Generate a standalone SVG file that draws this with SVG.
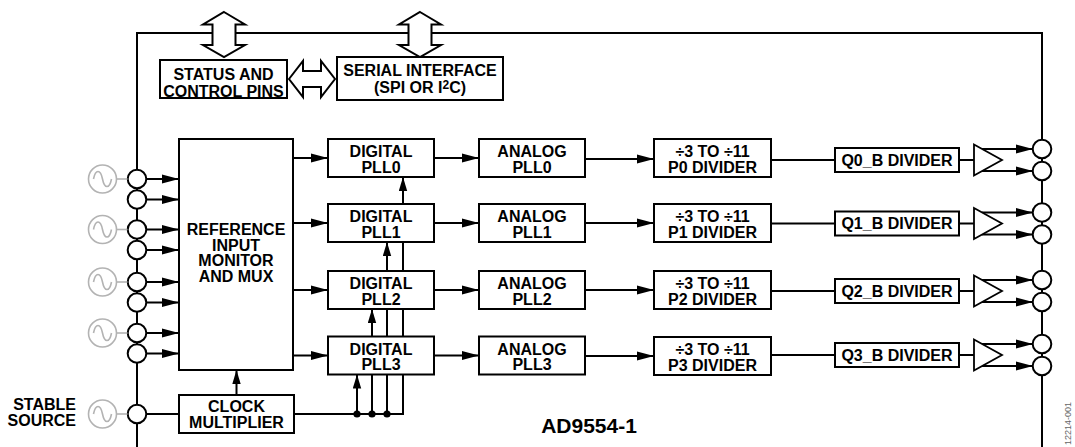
<svg xmlns="http://www.w3.org/2000/svg" width="1075" height="447" viewBox="0 0 1075 447">
<defs>
<style>
.b{fill:#fff;stroke:#000;stroke-width:2}
.l{fill:none;stroke:#000;stroke-width:2}
.t{font-family:"Liberation Sans",Arial,sans-serif;font-weight:bold;font-size:16px;text-anchor:middle;fill:#000}
.g{fill:#fff;stroke:#b3b3b3;stroke-width:1.6}
.gl{fill:none;stroke:#b3b3b3;stroke-width:1.6}
.tri{fill:#fff;stroke:#000;stroke-width:1.8}
.ar{fill:none;stroke:#000;stroke-width:2;marker-end:url(#ah)}
.av{fill:none;stroke:#000;stroke-width:2;marker-end:url(#av)}
</style>
<marker id="ah" markerUnits="userSpaceOnUse" viewBox="0 0 17 10" markerWidth="17" markerHeight="10" refX="17" refY="5" orient="auto"><path d="M0,0.5 L17,5 L0,9.5 z" fill="#000"/></marker>
<marker id="av" markerUnits="userSpaceOnUse" viewBox="0 0 14 9" markerWidth="14" markerHeight="9" refX="14" refY="4.5" orient="auto"><path d="M0,0.3 L14,4.5 L0,8.7 z" fill="#000"/></marker>
<g id="src">
<circle class="g" cx="0" cy="0" r="14"/>
<path class="gl" d="M-9,0 C-7,-10 -2,-10 0,0 C2,10 7,10 9,0"/>
<path class="gl" d="M14,0 H25"/>
</g>
</defs>
<rect width="1075" height="447" fill="#fff"/>

<g id="border">
<path class="l" d="M137,447 V33 H1042 V447"/>
</g>

<g id="connectors">
<!-- inputs to mux -->
<path class="ar" d="M146,179 H179"/>
<path class="ar" d="M146,199.5 H179"/>
<path class="ar" d="M146,229.5 H179"/>
<path class="ar" d="M146,250 H179"/>
<path class="ar" d="M146,282 H179"/>
<path class="ar" d="M146,302.5 H179"/>
<path class="ar" d="M146,333 H179"/>
<path class="ar" d="M146,353.5 H179"/>
<path class="l" d="M146,414 H179"/>
<!-- clock multiplier to mux -->
<path class="av" d="M236.5,395 V370"/>
<!-- mux to digital PLLs -->
<path class="ar" d="M293,158 H328"/>
<path class="ar" d="M293,223 H328"/>
<path class="ar" d="M293,290 H328"/>
<path class="ar" d="M293,355.5 H328"/>
<!-- digital to analog -->
<path class="ar" d="M434,158 H479"/>
<path class="ar" d="M434,223 H479"/>
<path class="ar" d="M434,290 H479"/>
<path class="ar" d="M434,355.5 H479"/>
<!-- analog to P divider -->
<path class="ar" d="M585,159 H654"/>
<path class="ar" d="M585,223 H654"/>
<path class="ar" d="M585,290 H654"/>
<path class="ar" d="M585,356 H654"/>
<!-- P divider to Q divider -->
<path class="l" d="M771,160 H835"/>
<path class="l" d="M771,223.5 H835"/>
<path class="l" d="M771,291 H835"/>
<path class="l" d="M771,355 H835"/>
<!-- Q divider to buffer -->
<path class="l" d="M959,160 H974"/>
<path class="l" d="M959,223.5 H974"/>
<path class="l" d="M959,291 H974"/>
<path class="l" d="M959,355 H974"/>
<!-- buffer outputs -->
<path class="ar" d="M982,149 H1033"/>
<path class="ar" d="M982,171 H1033"/>
<path class="ar" d="M982,212.5 H1033"/>
<path class="ar" d="M982,234.5 H1033"/>
<path class="ar" d="M982,280 H1033"/>
<path class="ar" d="M982,302 H1033"/>
<path class="ar" d="M982,344 H1033"/>
<path class="ar" d="M982,366 H1033"/>
<!-- clock bus -->
<path class="l" d="M294,414 H403 V374.5"/>
<path class="av" d="M357,414 V374.5"/>
<path class="l" d="M372,414 V374.5"/>
<path class="l" d="M387,414 V374.5"/>
<path class="av" d="M372,336.5 V309"/>
<path class="l" d="M387,336.5 V309"/>
<path class="l" d="M403,336.5 V309"/>
<path class="av" d="M387,271 V242"/>
<path class="l" d="M403,271 V242"/>
<path class="av" d="M403,204 V177"/>
<circle cx="357" cy="414" r="3.6" fill="#000"/>
<circle cx="372" cy="414" r="3.6" fill="#000"/>
<circle cx="387" cy="414" r="3.6" fill="#000"/>
</g>

<g id="bus-arrows">
<polygon class="b" points="224,12 245,24.5 235.5,24.5 235.5,45 245,45 224,57 203,45 212.5,45 212.5,24.5 203,24.5"/>
<polygon class="b" points="420,12 441,24.5 431.5,24.5 431.5,45 441,45 420,57 399,45 408.5,45 408.5,24.5 399,24.5"/>
<polygon class="b" points="289,79 303,61 303,71 321,71 321,61 335,79 321,97 321,87 303,87 303,97"/>
</g>

<g id="status-control">
<rect class="b" x="160" y="60" width="127" height="38"/>
<text class="t" x="223.5" y="80">STATUS AND</text>
<text class="t" x="223.5" y="96.5">CONTROL PINS</text>
</g>
<g id="serial-interface">
<rect class="b" x="337" y="57" width="166" height="43"/>
<text class="t" x="420" y="76">SERIAL INTERFACE</text>
<text class="t" x="420" y="92.5">(SPI OR I<tspan font-size="12" baseline-shift="4">2</tspan>C)</text>
</g>

<g id="ref-mux">
<rect class="b" x="179" y="139" width="114" height="231"/>
<text class="t" x="236" y="235">REFERENCE</text>
<text class="t" x="236" y="250.5">INPUT</text>
<text class="t" x="236" y="266">MONITOR</text>
<text class="t" x="236" y="281.5">AND MUX</text>
</g>
<g id="clock-multiplier">
<rect class="b" x="179" y="395" width="115" height="38"/>
<text class="t" x="236.5" y="412.3">CLOCK</text>
<text class="t" x="236.5" y="428.3">MULTIPLIER</text>
</g>

<g id="dpll0"><rect class="b" x="328" y="139" width="106" height="38"/><text class="t" x="381" y="157">DIGITAL</text><text class="t" x="381" y="172.5">PLL0</text></g>
<g id="dpll1"><rect class="b" x="328" y="204" width="106" height="38"/><text class="t" x="381" y="222">DIGITAL</text><text class="t" x="381" y="237.5">PLL1</text></g>
<g id="dpll2"><rect class="b" x="328" y="271" width="106" height="38"/><text class="t" x="381" y="289">DIGITAL</text><text class="t" x="381" y="304.5">PLL2</text></g>
<g id="dpll3"><rect class="b" x="328" y="336.5" width="106" height="38"/><text class="t" x="381" y="354.5">DIGITAL</text><text class="t" x="381" y="370">PLL3</text></g>

<g id="apll0"><rect class="b" x="479" y="139" width="106" height="38"/><text class="t" x="532" y="157">ANALOG</text><text class="t" x="532" y="172.5">PLL0</text></g>
<g id="apll1"><rect class="b" x="479" y="204" width="106" height="38"/><text class="t" x="532" y="222">ANALOG</text><text class="t" x="532" y="237.5">PLL1</text></g>
<g id="apll2"><rect class="b" x="479" y="271" width="106" height="38"/><text class="t" x="532" y="289">ANALOG</text><text class="t" x="532" y="304.5">PLL2</text></g>
<g id="apll3"><rect class="b" x="479" y="336.5" width="106" height="38"/><text class="t" x="532" y="354.5">ANALOG</text><text class="t" x="532" y="370">PLL3</text></g>

<g id="p0"><rect class="b" x="654" y="139" width="117" height="38"/><text class="t" x="712.5" y="157">÷3 TO ÷11</text><text class="t" x="712.5" y="172.5">P0 DIVIDER</text></g>
<g id="p1"><rect class="b" x="654" y="204" width="117" height="38"/><text class="t" x="712.5" y="222">÷3 TO ÷11</text><text class="t" x="712.5" y="237.5">P1 DIVIDER</text></g>
<g id="p2"><rect class="b" x="654" y="271" width="117" height="38"/><text class="t" x="712.5" y="289">÷3 TO ÷11</text><text class="t" x="712.5" y="304.5">P2 DIVIDER</text></g>
<g id="p3"><rect class="b" x="654" y="337" width="117" height="38"/><text class="t" x="712.5" y="355">÷3 TO ÷11</text><text class="t" x="712.5" y="370.5">P3 DIVIDER</text></g>

<g id="q0"><rect class="b" x="835" y="148" width="124" height="24"/><text class="t" x="897" y="165.8">Q0_B DIVIDER</text></g>
<g id="q1"><rect class="b" x="835" y="211.5" width="124" height="24"/><text class="t" x="897" y="229.3">Q1_B DIVIDER</text></g>
<g id="q2"><rect class="b" x="835" y="279" width="124" height="24"/><text class="t" x="897" y="296.8">Q2_B DIVIDER</text></g>
<g id="q3"><rect class="b" x="835" y="343" width="124" height="24"/><text class="t" x="897" y="360.8">Q3_B DIVIDER</text></g>

<g id="buf0"><polygon class="tri" points="974,144.5 1002,160 974,175.5"/></g>
<g id="buf1"><polygon class="tri" points="974,208 1002,223.5 974,239"/></g>
<g id="buf2"><polygon class="tri" points="974,275.5 1002,291 974,306.5"/></g>
<g id="buf3"><polygon class="tri" points="974,339.5 1002,355 974,370.5"/></g>

<g id="input-pins">
<circle class="b" cx="137" cy="179" r="9.3"/>
<circle class="b" cx="137" cy="199.5" r="9.3"/>
<circle class="b" cx="137" cy="229.5" r="9.3"/>
<circle class="b" cx="137" cy="250" r="9.3"/>
<circle class="b" cx="137" cy="282" r="9.3"/>
<circle class="b" cx="137" cy="302.5" r="9.3"/>
<circle class="b" cx="137" cy="333" r="9.3"/>
<circle class="b" cx="137" cy="353.5" r="9.3"/>
<circle class="b" cx="137" cy="414" r="9.3"/>
</g>
<g id="output-pins">
<circle class="b" cx="1042" cy="149" r="9.3"/>
<circle class="b" cx="1042" cy="171" r="9.3"/>
<circle class="b" cx="1042" cy="212.5" r="9.3"/>
<circle class="b" cx="1042" cy="234.5" r="9.3"/>
<circle class="b" cx="1042" cy="280" r="9.3"/>
<circle class="b" cx="1042" cy="302" r="9.3"/>
<circle class="b" cx="1042" cy="344" r="9.3"/>
<circle class="b" cx="1042" cy="366" r="9.3"/>
</g>

<g id="ref-sources">
<use href="#src" x="102.5" y="179"/>
<use href="#src" x="102.5" y="229.5"/>
<use href="#src" x="102.5" y="282"/>
<use href="#src" x="102.5" y="333"/>
</g>
<g id="stable-source">
<use href="#src" x="102.5" y="414"/>
<text class="t" x="76" y="410" text-anchor="end" style="text-anchor:end">STABLE</text>
<text class="t" x="76" y="426" style="text-anchor:end">SOURCE</text>
</g>

<text class="t" x="589" y="433" style="font-size:21px">AD9554-1</text>
<text transform="translate(1071,445) rotate(-90)" font-family="Liberation Sans, Arial, sans-serif" font-size="9" fill="#666">12214-001</text>
</svg>
